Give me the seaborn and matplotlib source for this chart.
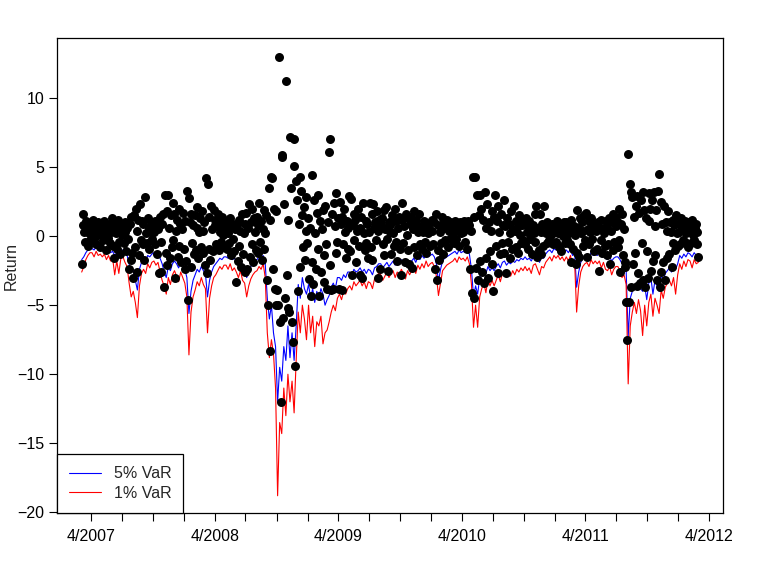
import numpy as np
import pandas as pd
import matplotlib
matplotlib.use("Agg")
import matplotlib.pyplot as plt
import seaborn as sns

# daily returns (%), 12 per month, Mar 2007 .. Feb 2012
returns = [
    -2.0, 0.8, 1.6, 0.3, -0.4, 1.1, 0.5, -0.7, 0.9, 0.2, -0.3, 0.7,      # 3/2007
    0.6, 1.2, -0.2, 0.4, 0.9, -0.6, 0.1, 1.0, 0.3, -0.8, 0.7, 0.2,       # 4/2007
    0.5, -0.3, 1.1, 0.2, -1.0, 0.8, 0.4, -0.1, 0.9, -0.5, 0.3, 1.3,
    -0.7, 0.6, -1.6, 0.9, 0.2, -0.9, 1.2, -0.4, 0.5, -1.3, 0.8, 0.1,
    0.7, -0.5, 1.0, 0.3, -1.1, 0.6, -0.2, -2.4, 0.9, -1.7, 1.4, -1.2,
    -3.0, 1.5, -0.8, 2.0, -2.6, 0.4, 1.2, -1.4, 2.3, -0.3, 1.1, -0.6,
    0.9, -1.7, 2.8, 0.2, -0.5, 1.3, 0.6, -0.9, 0.4, 1.0, -0.2, 0.7,
    0.3, 1.1, -0.6, 0.8, -1.3, 0.5, -2.7, 1.4, -0.4, -2.6, 0.9, 1.6,
    -3.7, 3.0, -1.2, 1.8, -2.1, 3.0, 0.6, -1.6, 1.5, -0.8, 2.4, -0.3,
    1.6, -3.0, 0.4, 1.2, -1.5, 2.0, -0.7, 0.9, -1.9, 0.5, 1.7, -0.9,
    -2.4, 1.1, -1.8, 3.3, -4.6, 2.75, 1.0, -2.2, 1.6, -0.5, 0.8, -1.3,   # 1/2008
    1.5, -1.0, 0.6, 2.1, -1.6, 0.3, 1.3, -0.8, 1.8, -1.2, 0.4, 1.0,
    -2.1, 4.2, -2.7, 3.8, -0.9, 1.4, -1.7, 2.2, 0.5, -1.1, 1.9, 0.8,
    1.2, -0.6, 0.7, 1.6, -1.0, 0.3, 0.9, -0.4, 1.4, 0.1, -0.8, 0.6,
    0.4, -0.9, 1.0, 0.2, -0.5, 1.3, -1.4, 0.7, -0.2, 0.9, -1.1, 0.5,
    -3.3, 0.8, -1.8, 1.2, -0.7, 0.4, -2.2, 1.6, -1.3, 0.2, -2.6, 0.9,
    1.7, -2.4, 0.6, 2.3, -1.5, 1.0, -0.6, 2.0, -1.9, 1.3, 0.3, -1.0,
    1.4, -1.2, 0.8, 2.4, -0.4, 1.1, -1.7, 0.5, 1.9, -0.9, 0.2, 1.5,
    -3.2, -5.0, 3.5, 1.2, -8.3, 4.3, 4.2, -2.4, 2.0, -3.8, 1.8, -5.0,   # 9/2008
    -3.9, -5.0, 13.0, -6.2, -12.0, 5.9, 5.7, -5.9, 2.3, -4.5, 11.2, -2.8,
    -5.2, 1.2, -5.5, 7.2, 3.5, -6.2, -7.7, 7.0, 5.1, -9.4, 4.0, 2.6,
    -4.0, 0.9, 4.3, -2.2, 3.3, 1.5, -0.8, 2.1, -1.7, 0.4, 2.8, -0.5,
    1.3, -3.1, 0.6, -4.3, 4.4, -1.9, -3.5, 2.6, 0.2, -2.4, 1.7, -0.9,   # 1/2009
    3.0, -4.3, 1.1, -2.6, 0.5, 1.9, -1.4, -3.3, 2.2, -0.6, -3.8, 1.0,
    6.1, -2.1, 7.0, -3.9, 1.6, -3.8, 2.4, 0.7, -1.2, 3.1, -0.4, 1.3,
    -3.8, 2.5, 0.9, -3.9, 1.4, -0.6, 2.0, 0.3, -1.6, 1.1, 0.6, -0.9,
    2.9, -1.1, 2.7, -2.8, 0.8, 1.6, -0.3, 1.2, -1.9, 0.4, 2.0, -0.7,
    0.6, -2.8, 1.4, -3.0, 2.4, 0.2, -1.0, 1.1, -0.5, 0.9, -1.6, 0.3,
    2.4, -0.8, 1.6, -1.7, 2.3, 0.6, 1.0, -0.3, 1.8, -3.0, 0.4, 1.2,
    -2.4, 0.9, 1.3, -0.6, 1.9, -1.4, 0.5, 2.1, -0.2, -2.5, 1.0, 0.3,
    0.8, -1.3, 1.5, 0.2, -0.7, 2.0, -0.4, 1.1, -1.8, 0.6, 1.4, -0.9,
    -2.8, 1.2, 2.4, -0.5, 0.7, -1.9, 1.6, 0.1, -1.0, 1.3, -2.0, 0.9,
    1.4, -2.3, 0.5, 1.8, -0.8, 0.9, 1.2, -1.4, 0.3, 1.6, -0.6, 0.4,
    0.7, -0.9, 0.3, 1.1, -0.4, 0.6, -1.2, 0.9, 0.2, 0.5, -0.7, 1.0,
    1.2, 0.4, -0.6, 1.0, -2.4, 1.6, -3.2, -1.0, 0.8, -1.7, 0.3, -0.5,   # 1/2010
    1.4, -1.3, 0.6, 1.1, -0.3, 0.9, 1.2, -0.8, 0.4, 1.0, -0.2, 0.7,
    0.9, 0.3, -0.5, 1.1, 0.6, -0.2, 0.8, 0.4, -0.7, 1.0, 0.2, 0.5,
    0.7, 0.3, 1.1, -0.4, 0.6, -0.9, 0.5, 1.1, 0.8, -2.4, 0.4, -4.1,
    4.3, -4.5, 1.4, 4.3, -2.3, 3.0, -3.2, 1.5, 3.0, -1.8, 2.0, -2.6,
    1.2, -3.4, 3.2, -1.6, 0.6, 2.3, -3.0, 1.0, -1.1, 0.4, -2.0, 1.8,
    -4.0, 1.4, 3.0, -0.7, 1.1, -2.7, 2.2, 0.3, -1.3, 1.6, -0.5, 0.8,
    2.6, -1.2, 0.7, -2.7, 1.3, -0.4, 0.9, -1.6, 0.2, 1.8, -0.9, 0.5,
    2.2, 0.4, -0.8, 1.1, 0.6, -1.2, 1.5, 0.1, -0.5, 1.2, 0.8, -0.3,
    0.9, -0.6, 1.3, 0.3, -0.9, 0.7, 1.1, -0.2, 0.5, -1.3, 0.8, 0.2,
    1.6, -0.4, 2.2, -1.5, 0.6, -1.0, 1.6, 0.3, -1.3, 0.9, -0.7, 2.2,
    0.8, 0.2, -0.5, 1.0, 0.4, -0.3, 0.7, 0.1, 0.9, -0.6, 0.5, 0.3,
    0.6, -0.4, 1.1, 0.2, -0.8, 0.9, 0.3, -1.1, 0.7, 0.0, 1.0, -0.5,     # 1/2011
    0.5, 1.0, -0.3, 0.8, 0.2, -0.6, 1.2, -1.9, 0.4, -0.9, 0.7, 0.1,
    -2.0, 1.9, -1.2, 0.6, -1.5, 1.3, 0.2, 1.0, -0.7, 0.4, 1.5, -0.3,
    1.7, -1.5, 0.5, 1.1, -0.6, 0.3, 1.3, -0.2, 0.8, -1.1, 0.6, 0.9,
    0.4, -0.9, 1.0, -2.5, 0.6, -0.3, 1.2, -1.2, 0.5, 0.2, -0.7, 1.1,
    -1.4, 0.8, -0.6, 1.3, -2.0, 0.4, 1.0, -1.0, 1.6, -0.4, 1.4, 0.7,
    1.1, -0.8, 2.0, -0.3, -2.6, 0.9, 1.6, -1.4, 0.5, -1.9, -2.2, -4.8,
    -7.5, 5.95, -4.8, 3.8, -3.7, 3.2, 2.8, -2.0, 1.4, -1.2, 2.2, -3.6,  # 8/2011
    2.9, -2.7, 1.7, -3.4, 2.6, -0.5, 3.2, -3.2, 1.9, -3.7, 1.3, -1.1,
    -3.0, 3.1, 1.1, 2.0, -2.5, 2.6, -1.8, 3.2, 0.7, -1.4, 1.9, -3.2,
    3.3, 4.5, -3.7, 2.5, -2.6, 0.9, -1.9, 2.2, -3.2, 1.0, 0.4, -1.6,
    1.8, -1.3, 1.0, 0.3, -2.2, 1.2, -0.5, 0.8, -1.0, 1.5, 0.2, -0.7,
    0.9, 0.3, -0.6, 1.3, 0.5, -0.3, 0.7, 1.1, -0.4, 0.2, 0.8, -0.8,     # 1/2012
    1.0, 0.4, -0.5, 0.8, 1.2, 0.1, -0.3, 0.6, 0.9, -0.6, 0.3, -1.5,
]

# value-at-risk forecasts, 5 per month, Mar 2007 .. Feb 2012
var_5 = [
    -1.7, -1.5, -1.2, -1.0, -0.9,   -0.9, -1.0, -0.8, -1.0, -0.9,
    -1.0, -0.9, -1.1, -1.0, -1.2,   -1.1, -1.4, -1.2, -1.3, -1.1,
    -1.0, -1.2, -1.4, -2.0, -2.6,   -2.5, -3.2, -3.9, -2.4, -1.9,
    -1.6, -1.8, -1.4, -1.5, -1.3,   -1.2, -1.4, -1.3, -1.6, -2.0,
    -2.6, -3.0, -2.2, -2.5, -2.0,   -1.8, -2.0, -2.3, -1.9, -2.1,
    -2.4, -3.0, -5.6, -4.0, -3.2,   -2.8, -2.4, -2.6, -2.2, -2.5,
    -2.7, -4.4, -3.2, -2.6, -2.2,   -2.0, -1.8, -1.6, -1.7, -1.5,
    -1.5, -1.6, -1.4, -1.7, -1.6,   -1.8, -2.0, -1.7, -2.2, -2.4,
    -3.0, -2.6, -2.2, -2.0, -1.8,   -1.7, -1.5, -1.6, -1.4, -2.0,
    -4.5, -6.0, -5.0, -7.0, -8.0,   -12.0, -9.5, -10.5, -8.0, -9.0,
    -6.5, -8.8, -7.0, -9.0, -6.5,   -3.5, -4.5, -3.0, -3.8, -4.2,
    -3.5, -4.5, -3.8, -4.8, -4.0,   -4.5, -3.8, -4.2, -5.0, -4.6,
    -4.3, -3.7, -3.4, -3.8, -3.0,   -3.0, -3.2, -2.8, -3.0, -2.6,
    -2.6, -2.8, -2.4, -2.6, -2.5,   -2.3, -2.6, -2.4, -2.7, -2.4,
    -2.5, -2.8, -2.3, -2.2, -2.0,   -2.0, -2.3, -2.1, -1.9, -2.2,
    -2.0, -1.8, -2.1, -1.9, -2.0,   -1.7, -1.9, -2.2, -1.8, -2.0,
    -1.8, -1.6, -1.9, -1.5, -1.7,   -1.4, -1.6, -1.3, -1.5, -1.4,
    -1.3, -1.5, -2.0, -3.3, -2.4,   -1.8, -1.6, -1.5, -1.4, -1.3,
    -1.2, -1.1, -1.3, -1.0, -1.2,   -1.1, -1.2, -1.0, -1.3, -2.4,
    -4.4, -3.6, -4.2, -3.0, -2.6,   -2.4, -2.7, -2.2, -2.5, -2.3,
    -2.5, -2.2, -2.0, -2.3, -1.9,   -1.8, -2.1, -1.9, -2.0, -1.8,
    -1.9, -1.7, -1.8, -1.6, -1.7,   -1.5, -1.7, -1.6, -1.8, -1.5,
    -1.4, -1.6, -1.9, -1.5, -1.6,   -1.3, -1.1, -1.0, -1.2, -0.9,
    -1.0, -0.9, -1.1, -1.0, -1.2,   -1.0, -1.2, -0.9, -1.4, -1.2,
    -3.7, -2.6, -1.9, -1.6, -1.5,   -1.3, -1.5, -1.2, -1.4, -1.3,
    -1.4, -1.2, -1.5, -1.3, -1.6,   -1.7, -1.5, -1.8, -1.6, -1.5,
    -1.5, -1.7, -2.0, -1.9, -2.4,   -7.3, -4.5, -4.0, -3.5, -3.8,
    -3.2, -3.8, -4.0, -3.6, -4.6,   -3.4, -3.0, -4.2, -3.2, -3.6,
    -4.0, -2.8, -3.2, -2.7, -2.5,   -2.3, -2.6, -2.2, -2.4, -2.0,
    -1.4, -1.6, -1.3, -1.5, -1.2,   -1.3, -1.5, -1.2, -1.4, -1.3,
]

var_1 = [
    -2.6, -2.2, -1.7, -1.4, -1.2,   -1.2, -1.5, -1.1, -1.4, -1.3,
    -1.5, -1.3, -1.7, -1.4, -1.8,   -1.6, -2.8, -1.8, -2.7, -1.6,
    -1.5, -1.9, -2.2, -3.4, -4.4,   -4.0, -4.8, -5.9, -3.6, -2.7,
    -2.4, -2.7, -2.0, -2.3, -1.9,   -1.8, -2.1, -1.9, -2.6, -3.2,
    -3.6, -4.2, -3.0, -3.5, -2.8,   -2.5, -2.9, -3.3, -2.6, -3.0,
    -3.4, -4.4, -8.6, -5.5, -4.4,   -3.9, -3.3, -3.6, -3.0, -3.5,
    -3.8, -7.0, -4.5, -3.6, -3.0,   -2.8, -2.5, -2.2, -2.4, -2.1,
    -2.1, -2.4, -2.0, -2.5, -2.3,   -2.6, -3.0, -2.5, -3.2, -3.4,
    -4.4, -3.6, -3.1, -2.8, -2.6,   -2.5, -2.2, -2.4, -2.0, -3.0,
    -7.0, -8.8, -7.5, -8.5, -11.0,  -18.8, -13.5, -14.3, -11.0, -13.0,
    -10.0, -12.0, -10.5, -12.8, -9.0,  -5.5, -7.0, -5.0, -6.0, -7.5,
    -5.0, -7.0, -5.8, -8.0, -6.2,   -6.5, -5.8, -7.8, -7.0, -6.8,
    -6.2, -5.5, -5.0, -5.4, -4.5,   -4.2, -4.6, -4.0, -4.2, -3.8,
    -3.6, -3.9, -3.3, -3.6, -3.4,   -3.2, -3.6, -3.3, -3.8, -3.3,
    -3.4, -3.8, -3.1, -2.9, -2.7,   -2.8, -3.2, -2.9, -2.6, -3.0,
    -2.7, -2.5, -3.0, -2.6, -2.8,   -2.4, -2.7, -3.1, -2.5, -2.8,
    -2.5, -2.2, -2.7, -2.1, -2.4,   -2.0, -2.3, -1.8, -2.2, -2.0,
    -1.9, -2.2, -2.9, -4.3, -3.4,   -2.5, -2.3, -2.1, -2.0, -1.9,
    -1.8, -1.6, -1.9, -1.5, -1.7,   -1.6, -1.8, -1.5, -2.0, -3.5,
    -6.6, -5.0, -6.6, -4.4, -3.8,   -3.4, -4.1, -3.1, -3.6, -3.2,
    -3.6, -3.2, -2.8, -3.3, -2.7,   -2.6, -3.0, -2.7, -2.9, -2.5,
    -2.8, -2.4, -2.6, -2.3, -2.5,   -2.2, -2.5, -2.3, -2.7, -2.1,
    -2.0, -2.4, -2.8, -2.2, -2.3,   -1.9, -1.7, -1.5, -1.8, -1.4,
    -1.6, -1.4, -1.7, -1.5, -1.8,   -1.5, -1.8, -1.4, -2.1, -1.8,
    -5.5, -3.6, -2.6, -2.2, -2.0,   -1.9, -2.2, -1.7, -2.0, -1.8,
    -2.0, -1.8, -2.3, -1.9, -2.4,   -2.5, -2.2, -2.8, -2.4, -2.2,
    -2.2, -2.5, -3.0, -2.8, -3.5,   -10.7, -6.5, -5.5, -4.8, -5.6,
    -4.6, -5.4, -7.2, -5.0, -6.5,   -4.8, -4.2, -5.8, -4.5, -5.0,
    -5.6, -3.9, -4.5, -3.7, -3.4,   -3.2, -3.6, -3.0, -4.2, -2.8,
    -2.0, -2.4, -1.8, -2.2, -1.7,   -1.8, -2.3, -1.7, -2.0, -1.9,
]

start, end = "2007-03-05", "2012-02-29"
y_ticks = [-20, -15, -10, -5, 0, 5, 10]

ret_df = pd.DataFrame({"date": pd.date_range(start, end, periods=len(returns)),
                       "ret": returns})
var_df = pd.DataFrame({"date": pd.date_range(start, end, periods=len(var_5)),
                       "5% VaR": var_5, "1% VaR": var_1})
var_long = var_df.melt(id_vars="date", var_name="level", value_name="var")

sns.set_style("ticks")
plt.rcParams["font.family"] = ["Liberation Sans", "DejaVu Sans"]

fig = plt.figure(figsize=(7.61, 5.71), dpi=100)
ax = fig.add_axes([57 / 761, 1 - 513 / 571, 666 / 761, 475 / 571])

sns.lineplot(data=var_long, x="date", y="var", hue="level",
             hue_order=["5% VaR", "1% VaR"],
             palette={"5% VaR": "#0000ff", "1% VaR": "#ff0000"},
             estimator=None, linewidth=0.8, ax=ax)
sns.scatterplot(data=ret_df, x="date", y="ret", color="black", s=42,
                linewidth=0, ax=ax, zorder=3)

# quarterly ticks, labels only in April
ticks = pd.date_range("2007-04-01", "2012-04-01", freq="3MS")
ax.set_xticks(ticks)
ax.set_xticklabels([f"{t.month}/{t.year}" if t.month == 4 else "" for t in ticks])
ax.set_xlim(pd.Timestamp("2006-12-22"), pd.Timestamp("2012-05-12"))
ax.set_ylim(-20.05, 14.35)
ax.set_yticks(y_ticks)

ax.set_xlabel("")
ax.set_ylabel("Return", fontsize=11.5,
              family=["Liberation Sans Narrow", "Liberation Sans", "DejaVu Sans"])
ax.yaxis.set_label_coords(-0.057, 0.52)
for sp in ax.spines.values():
    sp.set_visible(True)
    sp.set_color("black")
    sp.set_linewidth(0.9)
ax.tick_params(direction="out", length=5.5, width=0.8, labelsize=11.5,
               colors="black")
ax.tick_params(axis="x", pad=6)

handles, labels = ax.get_legend_handles_labels()
ax.legend(handles, labels, loc="lower left", borderaxespad=0, frameon=True,
          fancybox=False, edgecolor="black", framealpha=1, fontsize=11.5,
          handlelength=2.0, borderpad=0.75, labelspacing=0.3)
ax.get_legend().get_frame().set_linewidth(0.9)

plt.savefig("out.png", dpi=100)
plt.close()
